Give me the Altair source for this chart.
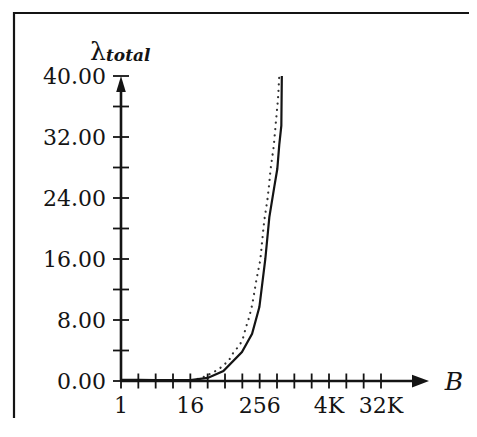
import altair as alt
import pandas as pd

# ---- data ----
solid_B = [1, 2, 4, 8, 16, 32, 60, 126, 189, 253, 321, 377, 460, 518, 561, 609, 621]
solid_L = [0.15, 0.15, 0.12, 0.12, 0.12, 0.4, 1.3, 3.8, 6.2, 9.7, 16.0, 21.5, 25.5, 27.8, 31.0, 33.5, 40.0]

dotted_B = [1, 16, 19.5, 29, 43.5, 57.7, 76, 89, 109, 128, 139, 150, 169, 191, 224,
            263, 284, 308, 348, 378, 393, 448, 493, 533, 561]
dotted_L = [0.1, 0.1, 0.15, 0.6, 1.3, 1.9, 2.8, 3.7, 4.5, 5.3, 6.3, 7.2, 8.4, 10.1, 13.2,
            15.9, 18.5, 21.1, 23.7, 26.1, 27.6, 30.7, 34.2, 37.0, 40.0]

x_tick_values = [2 ** i for i in range(16)]
x_label_values = [1, 16, 256, 4096, 32768]
x_label_texts = ["1", "16", "256", "4K", "32K"]
y_tick_values = [0, 4, 8, 12, 16, 20, 24, 28, 32, 36, 40]
y_label_values = [0, 8, 16, 24, 32, 40]
y_label_texts = ["0.00", "8.00", "16.00", "24.00", "32.00", "40.00"]

X_MIN = 1
X_AXIS_TIP = 2 ** 17.77
X_LINE_END = 2 ** 17.2
Y_MAX = 40
Y_LINE_END = 38

INK = "#141414"
FONT = "DejaVu Serif"

xs = alt.Scale(type="log", base=2, domain=[1, 32768], range=[0, 260], nice=False, zero=False)
ys = alt.Scale(type="linear", domain=[0, 40], nice=False, zero=False)


def X(field):
    return alt.X(field, type="quantitative", scale=xs, axis=None)


def Y(field):
    return alt.Y(field, type="quantitative", scale=ys, axis=None)


solid_df = pd.DataFrame({"B": solid_B, "L": solid_L})
dotted_df = pd.DataFrame({"B": dotted_B, "L": dotted_L})

one = pd.DataFrame({"a": [0]})
frame_left = alt.Chart(one).mark_rule(color=INK, strokeWidth=2.2).encode(
    x=alt.value(-107), y=alt.value(-64), y2=alt.value(342)
)
frame_top = alt.Chart(one).mark_rule(color=INK, strokeWidth=2.2).encode(
    x=alt.value(-108), x2=alt.value(348), y=alt.value(-63)
)

dotted = alt.Chart(dotted_df).mark_line(
    color="#333", strokeWidth=2.2, strokeDash=[0.1, 6.3], strokeCap="round"
).encode(x=X("B"), y=Y("L"))

solid = alt.Chart(solid_df).mark_line(
    color=INK, strokeWidth=2.2
).encode(x=X("B"), y=Y("L"))

x_axis_line = alt.Chart(pd.DataFrame({"x": [X_MIN], "x2": [X_LINE_END], "y": [0]})).mark_rule(
    color=INK, strokeWidth=2.6
).encode(x=X("x"), x2="x2", y=Y("y"))

y_axis_line = alt.Chart(pd.DataFrame({"x": [X_MIN], "y": [0], "y2": [Y_LINE_END]})).mark_rule(
    color=INK, strokeWidth=2.6
).encode(x=X("x"), y=Y("y"), y2="y2")

x_arrow = alt.Chart(pd.DataFrame({"x": [X_AXIS_TIP], "y": [0]})).mark_point(
    shape="M0,0L-2,-0.75L-2,0.75Z", size=289, filled=True, color=INK, opacity=1
).encode(x=X("x"), y=Y("y"))

y_arrow = alt.Chart(pd.DataFrame({"x": [X_MIN], "y": [Y_MAX]})).mark_point(
    shape="M0,0L-0.6,2L0.6,2Z", size=256, filled=True, color=INK, opacity=1
).encode(x=X("x"), y=Y("y"))

x_ticks = alt.Chart(pd.DataFrame({"x": x_tick_values, "y": [0] * len(x_tick_values)})).mark_tick(
    orient="vertical", size=15, thickness=1.8, color=INK, opacity=1
).encode(x=X("x"), y=Y("y"))

y_ticks = alt.Chart(pd.DataFrame({"x": [X_MIN] * len(y_tick_values), "y": y_tick_values})).mark_tick(
    orient="horizontal", size=16, thickness=1.8, color=INK, opacity=1
).encode(x=X("x"), y=Y("y"))

x_labels = alt.Chart(pd.DataFrame({"x": x_label_values, "y": [0] * 5, "t": x_label_texts})).mark_text(
    font=FONT, fontSize=22, color=INK, align="center", baseline="middle", dy=25
).encode(x=X("x"), y=Y("y"), text="t")

y_labels = alt.Chart(pd.DataFrame({"x": [X_MIN] * 6, "y": y_label_values, "t": y_label_texts})).mark_text(
    font=FONT, fontSize=22, color=INK, align="right", baseline="middle", dx=-15, dy=1
).encode(x=X("x"), y=Y("y"), text="t")

lam = alt.Chart(pd.DataFrame({"x": [X_MIN], "y": [Y_MAX], "t": ["λ"]})).mark_text(
    font=FONT, fontSize=25, color=INK, align="center",
    baseline="alphabetic", dx=-23, dy=-16
).encode(x=X("x"), y=Y("y"), text="t")

lam_sub = alt.Chart(pd.DataFrame({"x": [X_MIN], "y": [Y_MAX], "t": ["total"]})).mark_text(
    font=FONT, fontSize=17, fontStyle="italic", fontWeight="bold", color=INK, align="left",
    baseline="alphabetic", dx=-15, dy=-15
).encode(x=X("x"), y=Y("y"), text="t")

b_title = alt.Chart(pd.DataFrame({"x": [X_AXIS_TIP], "y": [0], "t": ["B"]})).mark_text(
    font=FONT, fontSize=25, fontStyle="italic", color=INK, align="center",
    baseline="middle", dx=25, dy=1
).encode(x=X("x"), y=Y("y"), text="t")

chart = alt.layer(
    frame_left, frame_top, dotted, solid, x_axis_line, y_axis_line, x_ticks, y_ticks,
    x_arrow, y_arrow, x_labels, y_labels, lam, lam_sub, b_title
).properties(
    width=308, height=305,
    autosize=alt.AutoSizeParams(type="none"),
    padding={"left": 113, "top": 68, "right": 40, "bottom": 37},
    background="white",
).configure_view(stroke=None)

chart.save("out.html", embed_options={"renderer": "svg", "actions": False})
